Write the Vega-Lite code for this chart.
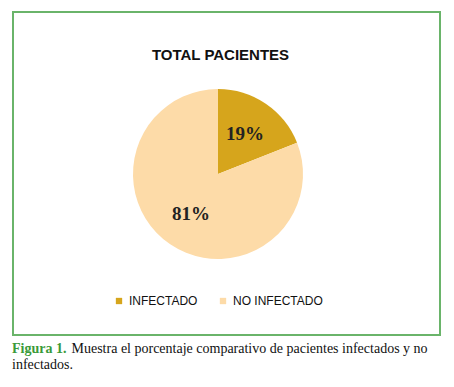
{
  "$schema": "https://vega.github.io/schema/vega-lite/v6.json",
  "background": "white",
  "padding": {"left": 12, "top": 11, "right": 13, "bottom": 10},
  "title": {
    "text": "Figura 1.",
    "subtitle": ["\u200b\u00a0\u00a0\u00a0\u00a0\u00a0\u00a0\u00a0\u00a0\u00a0\u00a0\u00a0\u00a0\u00a0\u00a0\u00a0\u00a0\u00a0Muestra el porcentaje comparativo de pacientes infectados y no", "infectados."],
    "orient": "bottom",
    "anchor": "start",
    "offset": 6,
    "font": "Liberation Serif",
    "fontSize": 14,
    "fontWeight": "bold",
    "color": "#3a9a3a",
    "subtitleFont": "Liberation Serif",
    "subtitleFontSize": 14,
    "subtitleColor": "#111111",
    "subtitleLineHeight": 15.5,
    "subtitlePadding": -14
  },
  "vconcat": [
    {
      "title": {
        "text": "TOTAL PACIENTES",
        "offset": -51,
        "frame": "group",
        "dx": -6,
        "font": "Liberation Sans",
        "fontSize": 15,
        "fontWeight": "bold",
        "color": "#111111"
      },
      "width": 427,
      "height": 323,
      "view": {"stroke": "#6ab46a", "strokeWidth": 2},
      "data": {
        "values": [
          {"estado": "INFECTADO", "porcentaje": 19, "etiqueta": "19%", "orden": 1},
          {"estado": "NO INFECTADO", "porcentaje": 81, "etiqueta": "81%", "orden": 2}
        ]
      },
      "encoding": {
        "theta": {"field": "porcentaje", "type": "quantitative", "stack": true},
        "order": {"field": "orden", "type": "quantitative"}
      },
      "layer": [
        {
          "mark": {"type": "arc", "outerRadius": 85, "xOffset": -8.5, "yOffset": 0.5},
          "encoding": {
            "color": {
              "field": "estado",
              "type": "nominal",
              "scale": {"domain": ["INFECTADO", "NO INFECTADO"], "range": ["#d6a51c", "#fddba8"]},
              "legend": {
                "orient": "none",
                "legendX": 100,
                "legendY": 283,
                "direction": "horizontal",
                "title": null,
                "symbolType": "square",
                "symbolSize": 40,
                "symbolStrokeWidth": 0,
                "labelFont": "Liberation Sans",
                "labelFontSize": 12,
                "labelColor": "#111111",
                "labelOffset": 4,
                "columnPadding": 19
              }
            }
          }
        },
        {
          "mark": {"type": "text", "radius": 48, "xOffset": -8.5, "yOffset": 0.5, "font": "Liberation Serif", "fontSize": 19, "fontWeight": "bold", "color": "#222222", "baseline": "middle"},
          "encoding": {"text": {"field": "etiqueta", "type": "nominal"}}
        }
      ]
    }
  ]
}
